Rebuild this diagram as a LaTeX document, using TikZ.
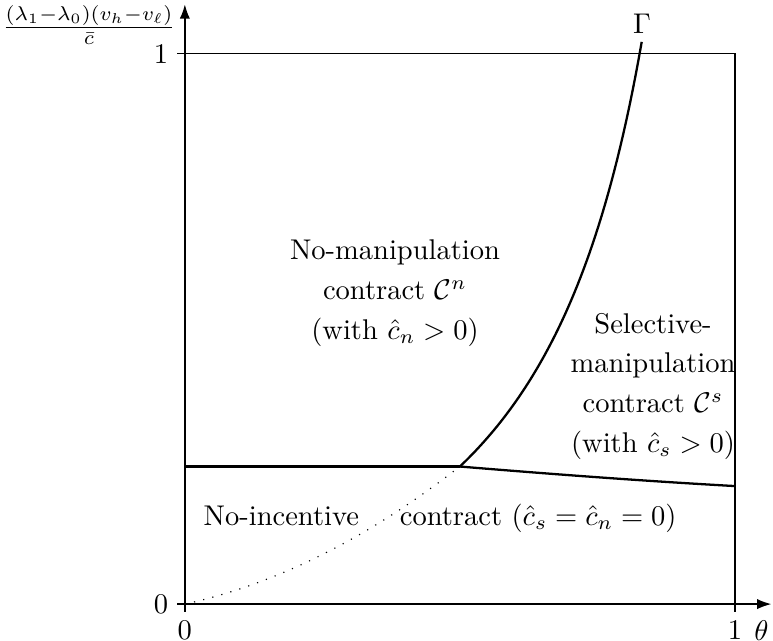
\documentclass[tikz,border=0pt]{standalone}
\usepackage{amsmath}
\usetikzlibrary{arrows.meta}
\begin{document}
\begin{tikzpicture}[x=6.78cm,y=6.78cm,
  axisline/.style={-{Latex[length=5pt,width=3.6pt]}, line width=0.5pt},
  frameline/.style={line width=0.4pt},
  boundline/.style={line width=0.8pt},
  dottedline/.style={line width=0.4pt, dash pattern=on 0.4pt off 2.9pt},
  regiontext/.style={align=center, inner sep=0pt, font=\fontsize{10}{13.9}\selectfont},
  ticklabel/.style={inner sep=3pt}]
\useasboundingbox (-0.336,-0.067) rectangle (1.069,1.098);
% axes
\coordinate (ybot) at (0,-0.014);
\coordinate (ytip) at (0,1.09);
\coordinate (xleft) at (-0.014,0);
\coordinate (xtip) at (1.066,0);
\draw[axisline] (ybot) -- (ytip);
\draw[axisline] (xleft) -- (xtip);
% frame and ticks
\coordinate (c01) at (0,1);
\coordinate (c11) at (1,1);
\coordinate (c1b) at (1,-0.014);
\coordinate (t1l) at (-0.014,1);
\draw[frameline] (t1l) -- (c01) -- (c11) -- (c1b);
% tick labels
\node[ticklabel, anchor=east] (ly1) at (t1l) {$1$};
\node[ticklabel, anchor=east] (ly0) at (xleft) {$0$};
\node[ticklabel, anchor=north] (lx0) at (ybot) {$0$};
\node[ticklabel, anchor=north] (lx1) at (c1b) {$1$};
\node[ticklabel, anchor=north] (ltheta) at (1.048,-0.014) {$\theta$};
\node[ticklabel, anchor=east] (ylab) at (0,1.053) {$\frac{(\lambda_1-\lambda_0)(v_h-v_\ell)}{\bar c}$};
% boundaries
\coordinate (K) at (0.5,0.25);
\coordinate (L) at (0,0.25);
\coordinate (R) at (1,0.2145);
\coordinate (G) at (0.831,1.025);
\draw[boundline] (L) -- (K);
\draw[boundline] (K) .. controls (0.67,0.236) and (0.83,0.224) .. (R);
\draw[boundline] plot[domain=0.5:0.831, samples=60] (\x,{0.25+0.2967*(1/(1.058-\x)-1.7921)});
\draw[dottedline] plot[domain=0:0.5, samples=40] (\x,{0.22*\x+0.561*\x*\x});
\node[anchor=south, inner sep=2pt] (gam) at (G) {$\Gamma$};
% region texts
\node[regiontext] (nm) at (0.382,0.565) {No-manipulation\\contract $\mathcal{C}^n$\\(with $\hat{c}_n>0$)};
\node[regiontext] (sm) at (0.851,0.396) {Selective-\\manipulation\\contract $\mathcal{C}^s$\\(with $\hat{c}_s>0$)};
\node[regiontext] (ni) at (0.464,0.156) {No-incentive\hspace{11pt} contract ($\hat{c}_s=\hat{c}_n=0$)};
\end{tikzpicture}
\end{document}
